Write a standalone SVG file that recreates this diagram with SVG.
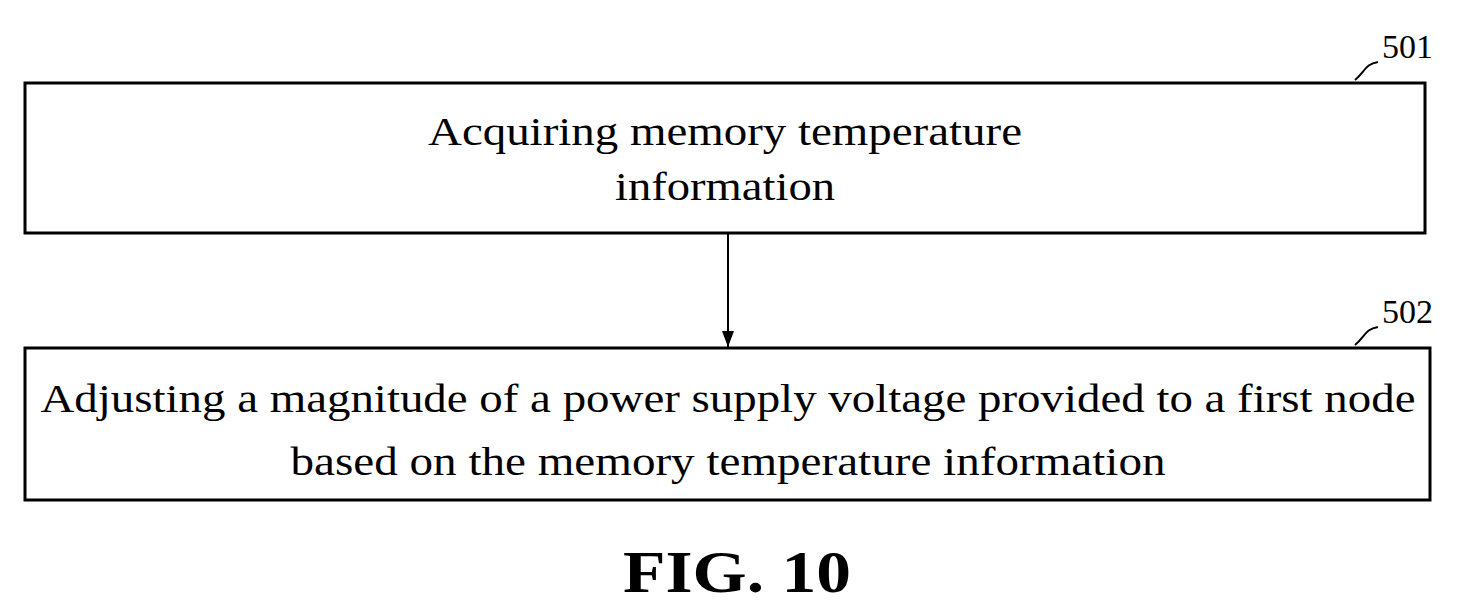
<svg xmlns="http://www.w3.org/2000/svg" width="1481" height="614" viewBox="0 0 1481 614">
<style>
.box{fill:#fff;stroke:#000;stroke-width:3}
.t{font-family:"Liberation Serif",serif;font-size:41px;text-anchor:middle;fill:#000}
.lbl{font-family:"Liberation Serif",serif;font-size:34px;fill:#000}
.ln{fill:none;stroke:#000;stroke-width:2}
</style>
<defs><marker id="a" markerWidth="16" markerHeight="12" refX="16" refY="6" orient="auto" markerUnits="userSpaceOnUse"><path d="M0,0L16,6L0,12Z" fill="#000"/></marker></defs>
<rect width="1481" height="614" fill="#fff"/>
<g id="n501"><rect class="box" x="25" y="83" width="1400" height="150"/>
<text class="t" x="725" y="145" textLength="594" lengthAdjust="spacingAndGlyphs">Acquiring memory temperature</text>
<text class="t" x="725" y="200" textLength="220" lengthAdjust="spacingAndGlyphs">information</text>
<path class="ln" d="M1355,80 C1365,72 1365,64 1378,62"/><text class="lbl" x="1382" y="58">501</text></g>
<g id="n502"><rect class="box" x="25" y="348" width="1405" height="152"/>
<text class="t" x="728" y="412" textLength="1375" lengthAdjust="spacingAndGlyphs">Adjusting a magnitude of a power supply voltage provided to a first node</text>
<text class="t" x="728" y="475" textLength="875" lengthAdjust="spacingAndGlyphs">based on the memory temperature information</text>
<path class="ln" d="M1355,345 C1365,337 1365,329 1378,327"/><text class="lbl" x="1382" y="323">502</text></g>
<g id="connectors"><line class="ln" x1="728" y1="233" x2="728" y2="347" marker-end="url(#a)"/></g>
<text x="737" y="592" textLength="228" lengthAdjust="spacingAndGlyphs" style="font-family:'Liberation Serif',serif;font-size:60px;font-weight:bold;text-anchor:middle">FIG. 10</text>
</svg>
